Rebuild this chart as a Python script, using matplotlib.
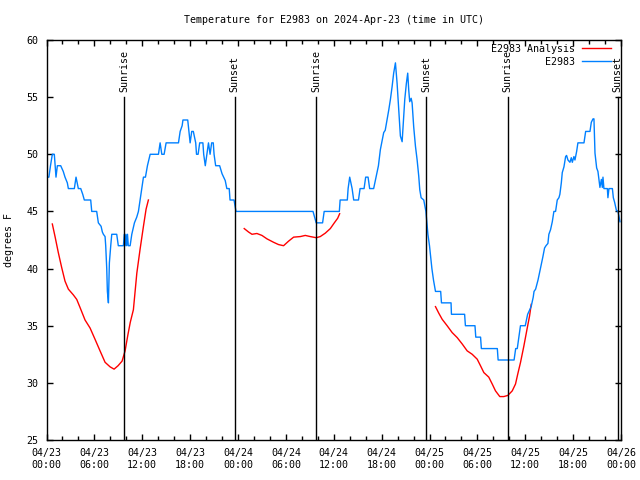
import matplotlib
matplotlib.use("Agg")
import matplotlib.pyplot as plt
import matplotlib.dates as mdates
import pandas as pd

plt.rcParams['font.family'] = 'DejaVu Sans Mono'
plt.rcParams['font.size'] = 7.2

start = pd.Timestamp("2024-04-23 00:00")

# observed temperatures (hours after 04/23 00:00 UTC, degrees F)
obs_hours = [0.0, 0.3, 0.5, 0.73, 0.98, 1.19, 1.36, 1.78, 2.1, 2.32, 2.61, 2.74, 3.49, 3.7, 3.99,
             4.29, 4.54, 4.74, 5.54, 5.67, 6.29, 6.5, 6.84, 7.0, 7.13, 7.34, 7.42, 7.55, 7.63, 7.76,
             7.88, 8.05, 8.18, 8.8, 9.0, 9.64, 9.75, 9.85, 9.95, 10.05, 10.15, 10.25, 10.48, 10.69,
             11.02, 11.31, 11.52, 11.73, 11.94, 12.15, 12.4, 12.65, 12.82, 12.99, 14.03, 14.24,
             14.45, 14.74, 14.99, 16.54, 16.75, 17.0, 17.1, 17.7, 17.85, 18.0, 18.2, 18.4, 18.7,
             18.8, 19.0, 19.2, 19.6, 19.7, 19.9, 20.1, 20.3, 20.5, 20.7, 20.9, 21.0, 21.2, 21.7,
             22.0, 22.2, 22.4, 22.6, 22.9, 23.0, 23.5, 23.75, 33.4, 33.8, 34.6, 34.8, 36.7, 36.8,
             37.7, 37.8, 38.0, 38.3, 38.5, 39.1, 39.3, 39.8, 40.0, 40.3, 40.5, 41.0, 41.3, 41.6,
             41.84, 42.26, 42.45, 42.68, 42.9, 43.1, 43.31, 43.51, 43.73, 43.94, 44.14, 44.35,
             44.57, 44.69, 44.9, 45.1, 45.27, 45.4, 45.52, 45.7, 45.82, 46.02, 46.24, 46.45,
             46.65, 46.78, 46.95, 47.28, 47.55, 47.8, 48.0, 48.3, 48.5, 48.75, 49.4, 49.5, 50.7,
             50.75, 52.4, 52.5, 53.7, 53.8, 54.4, 54.5, 56.5, 56.6, 58.6, 58.8, 59.0, 59.2, 59.4,
             60.0, 60.3, 60.5, 60.75, 61.0, 61.1, 61.3, 61.6, 61.9, 62.2, 62.42, 62.6, 62.84,
             62.96, 63.17, 63.39, 63.59, 63.8, 64.01, 64.22, 64.34, 64.52, 64.64, 64.85, 65.06,
             65.18, 65.35, 65.6, 65.77, 65.9, 66.1, 66.23, 66.44, 66.6, 67.36, 67.57, 68.11,
             68.28, 68.49, 68.61, 68.74, 68.95, 69.11, 69.24, 69.36, 69.54, 69.66, 69.74, 69.86,
             70.07, 70.29, 70.36, 70.49, 70.7, 70.92, 71.04, 71.2, 71.42, 71.62, 71.74, 71.87]
obs_temp = [48, 48, 49, 50, 50, 48, 49, 49, 48.5, 48, 47.5, 47, 47, 48, 47,
            47, 46.5, 46, 46, 45, 45, 44, 43.7, 43.2, 43, 42.8, 42, 40, 38, 37,
            40.5, 42, 43, 43, 42, 42, 43, 42, 43, 42, 43, 42, 42, 43,
            44, 44.5, 45, 46, 47, 48, 48, 49, 49.5, 50, 50, 51,
            50, 50, 51, 51, 52, 52.5, 53, 53, 52, 51, 52, 52, 51,
            50, 50, 51, 51, 50, 49, 50, 51, 50, 51, 51, 50, 49, 49,
            48.3, 48, 47.7, 47, 47, 46, 46, 45, 45, 44, 44, 45, 45, 46,
            46, 47, 48, 47, 46, 46, 47, 47, 48, 48, 47, 47, 48, 49,
            50.4, 51.9, 52.1, 53.0, 53.9, 54.8, 55.9, 57.1, 58.0, 56.2, 53.9, 51.6,
            51.1, 52.4, 54.8, 56.2, 57.1, 55.6, 54.6, 54.9, 54.5, 52.4, 50.7, 49.5,
            48.1, 46.9, 46.2, 46.0, 45, 43, 42, 40, 39, 38, 38, 37, 37,
            36, 36, 35, 35, 34, 34, 33, 33, 32, 32, 33, 33, 34, 35,
            35, 36, 36.3, 36.7, 37.5, 38, 38.2, 39, 40, 41, 41.8, 42, 42.2,
            43, 43.4, 44.1, 45, 45, 46, 46.2, 46.5, 47.5, 48.4, 48.9, 49.8,
            49.9, 49.5, 49.3, 49.7, 49.3, 49.8, 49.5, 50.25, 51, 51, 52, 52,
            52.8, 53.1, 53.1, 50.1, 48.8, 48.5, 47.8, 47.1, 47.8, 47.1, 48, 47,
            47, 47, 46.2, 47, 47, 47, 46.2, 45.8, 45.1, 45, 44.6, 44.1]

# analysis temperatures, three separate runs
ana1_hours = [0.73, 1.07, 1.48, 1.9, 2.32, 2.74, 3.36, 3.79, 4.2, 4.83, 5.46, 6.09, 6.71, 7.34,
              7.97, 8.47, 8.97, 9.47, 9.85, 10.2, 10.5, 10.89, 11.32, 11.73, 12.15, 12.48, 12.77]
ana1_temp = [43.9, 42.8, 41.4, 40.1, 38.9, 38.2, 37.7, 37.3, 36.6, 35.5, 34.8, 33.8, 32.8, 31.8,
             31.4, 31.2, 31.5, 31.9, 32.8, 34.2, 35.3, 36.4, 39.6, 41.7, 43.7, 45.2, 46.0]
ana2_hours = [24.78, 25.32, 25.75, 26.37, 27.0, 27.63, 28.46, 29.08, 29.71, 30.34, 30.97, 31.81,
              32.43, 33.06, 33.81, 34.31, 34.94, 35.57, 36.07, 36.49, 36.74]
ana2_temp = [43.5, 43.2, 43.0, 43.07, 42.9, 42.6, 42.3, 42.1, 42.0, 42.4, 42.75, 42.8,
             42.9, 42.8, 42.7, 42.8, 43.1, 43.5, 44.0, 44.4, 44.8]
ana3_hours = [48.75, 49.16, 49.59, 50.21, 50.84, 51.47, 52.1, 52.72, 53.35, 53.98, 54.39, 54.81,
              55.43, 55.86, 56.27, 56.81, 57.31, 57.82, 58.37, 58.78, 59.07, 59.41, 59.82, 60.25,
              60.54, 60.75]
ana3_temp = [36.67, 36.1, 35.56, 35.0, 34.4, 33.96, 33.4, 32.8, 32.5, 32.07, 31.5, 30.9,
             30.5, 29.9, 29.3, 28.8, 28.8, 28.9, 29.3, 29.9, 30.8, 31.8, 33.2, 34.8,
             35.85, 36.87]

sunrise_hours = [9.76, 33.8, 57.8]
sunset_hours = [23.59, 47.6, 71.58]


def to_time(hours):
    return start + pd.to_timedelta(hours, unit="h")


fig = plt.figure(figsize=(6.4, 4.8), dpi=100)
ax = fig.add_axes([46.5 / 640, 40 / 480, (621 - 46.5) / 640, 400 / 480])

red = "#ff0000"
blue = "#0080ff"

ax.plot(to_time(ana1_hours), ana1_temp, color=red, lw=1.0, label="E2983 Analysis")
ax.plot(to_time(ana2_hours), ana2_temp, color=red, lw=1.0)
ax.plot(to_time(ana3_hours), ana3_temp, color=red, lw=1.0)
ax.plot(to_time(obs_hours), obs_temp, color=blue, lw=1.0, label="E2983")

for name, hours in [("Sunrise", sunrise_hours), ("Sunset", sunset_hours)]:
    for h in hours:
        t = to_time(h)
        ax.plot([t, t], [25, 55], color="black", lw=1.0)
        ax.annotate(name, (t, 55), xytext=(0, 4), textcoords="offset points",
                    rotation=90, ha="center", va="bottom", annotation_clip=False)

ax.set_xlim(start, start + pd.Timedelta(hours=72))
ax.set_ylim(25, 60)
ax.set_yticks(range(25, 61, 5))
ax.xaxis.set_major_locator(mdates.HourLocator(byhour=[0, 6, 12, 18]))
ax.xaxis.set_minor_locator(mdates.HourLocator(interval=2))
ax.xaxis.set_major_formatter(mdates.DateFormatter("%m/%d\n%H:%M"))
ax.tick_params(which="both", direction="in", top=True, right=True, width=1.0)
ax.tick_params(which="major", length=4, pad=6)
ax.tick_params(which="minor", length=3)
for lbl in ax.get_xticklabels():
    lbl.set_horizontalalignment("center")
for s in ax.spines.values():
    s.set_linewidth(1.0)

ax.set_ylabel("degrees F", labelpad=9)
fig.text(334 / 640, 1 - 20 / 480, "Temperature for E2983 on 2024-Apr-23 (time in UTC)",
         ha="center", va="center")

ax.legend(loc="upper right", bbox_to_anchor=((611 - 46.5) / 574.5, 1 - 4 / 400),
          frameon=False, markerfirst=False, handlelength=2.9, handletextpad=0.7,
          labelspacing=0.3, borderaxespad=0, borderpad=0)

fig.savefig("out.png", dpi=100)
